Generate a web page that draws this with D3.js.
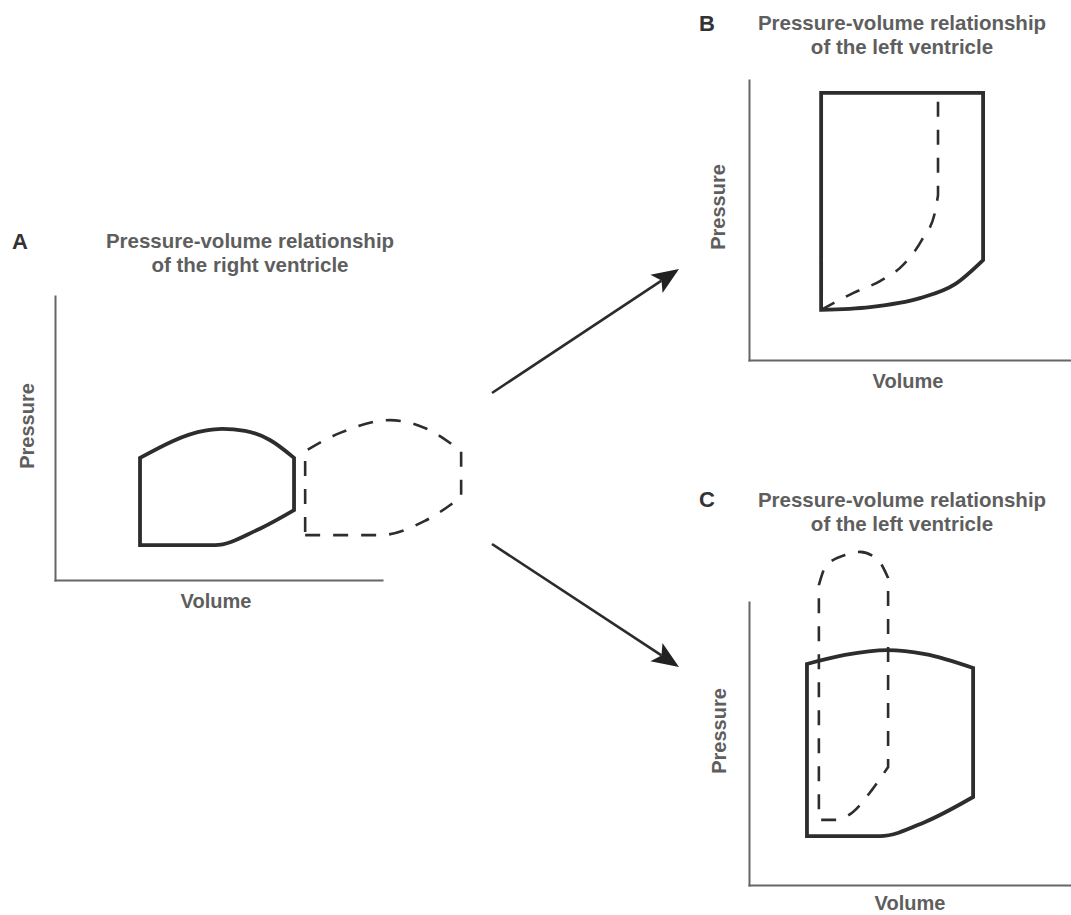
<!DOCTYPE html>
<html>
<head>
<meta charset="utf-8">
<script src="https://cdn.jsdelivr.net/npm/d3@7"></script>
<style>
  html, body { margin: 0; padding: 0; background: #fff; }
  svg { display: block; }
  text { font-family: "Liberation Sans", Arial, Helvetica, sans-serif; font-weight: bold; }
</style>
</head>
<body>
<svg id="chart" width="1071" height="915"></svg>
<script>
// ---------------------------------------------------------------
// Labels
// ---------------------------------------------------------------
const panelLetters = ["A", "B", "C"];
const panelTitles = [
  ["Pressure-volume relationship", "of the right ventricle"],
  ["Pressure-volume relationship", "of the left ventricle"],
  ["Pressure-volume relationship", "of the left ventricle"]
];
const volumeLabel = "Volume";
const pressureLabel = "Pressure";

// ---------------------------------------------------------------
// Loops: [volume, pressure] in relative units (0-100 spans each axis)
// ---------------------------------------------------------------
// Panel A - right ventricle, baseline loop (solid)
const rvBaseFilling  = [[26.0, 12.3], [48.9, 12.3], [61.8, 17.6], [73.1, 24.6]];
const rvBaseEjection = [[73.1, 43.0], [65.7, 49.3], [58.1, 52.5], [51.1, 53.2], [45.9, 52.6], [26.0, 43.0]];
// Panel A - right ventricle, dilated loop (dashed)
const rvDilatedFilling  = [[76.5, 15.8], [99.4, 15.8], [113.1, 20.8], [124.2, 29.2]];
const rvDilatedEjection = [[124.2, 45.4], [113.1, 53.5], [102.4, 56.3], [87.2, 51.8], [76.5, 45.4]];

// Panel B - left ventricle, baseline loop (solid)
const lvBaseFillingB  = [[22.4, 17.9], [37.6, 18.9], [53.1, 22.1], [64.0, 27.1], [72.7, 35.7]];
const lvBaseEjectionB = [[72.7, 95.4], [22.4, 95.4]];
// Panel B - stiffer filling curve (dashed)
const lvStiffFilling  = [[22.4, 17.9], [32.3, 23.9], [40.7, 28.2], [47.8, 33.9], [53.7, 42.9], [57.8, 52.9], [58.7, 58.9]];
const lvStiffEjection = [[58.7, 58.9], [58.7, 95.4]];

// Panel C - left ventricle, baseline loop (solid)
const lvBaseFillingC  = [[18.0, 17.3], [40.7, 17.3], [54.7, 22.3], [69.6, 31.1]];
const lvBaseEjectionC = [[69.6, 76.7], [54.7, 81.6], [42.9, 83.0], [29.8, 81.3], [18.0, 78.1]];
// Panel C - compressed, high-pressure loop (dashed)
const lvSmallEjection = [[21.7, 106.0], [23.9, 112.7], [29.8, 116.6], [34.5, 117.7], [40.1, 114.8], [43.2, 108.5]];
const lvSmallFilling  = [[43.2, 41.7], [38.2, 33.6], [32.3, 25.8], [26.7, 23.0], [21.7, 23.0]];

// ---------------------------------------------------------------
// Layout (pixels)
// ---------------------------------------------------------------
const layout = [
  { x0: 55,  x1: 382,  yBottom: 580, yTop: 296,
    title: [250, 248], letter: [12, 249], vol: [216, 608], pres: [34, 426] },
  { x0: 749, x1: 1071, yBottom: 360, yTop: 80,
    title: [902, 30],  letter: [699, 31], vol: [908, 388], pres: [725, 207] },
  { x0: 749, x1: 1071, yBottom: 885, yTop: 602,
    title: [902, 507], letter: [699, 507], vol: [910, 910], pres: [726, 731] }
];
const arrows = [
  { from: [492, 393], to: [679, 269] },
  { from: [492, 544], to: [679, 667] }
];

const loops = [
  { panel: 0, dashed: false, closed: true,  segs: [[rvBaseFilling, true], [rvBaseEjection, true]] },
  { panel: 0, dashed: true,  closed: true,  segs: [[rvDilatedFilling, true], [rvDilatedEjection, true]] },
  { panel: 1, dashed: false, closed: true,  segs: [[lvBaseFillingB, true], [lvBaseEjectionB, false]] },
  { panel: 1, dashed: true,  closed: false, segs: [[lvStiffFilling, true], [lvStiffEjection, false]] },
  { panel: 2, dashed: false, closed: true,  segs: [[lvBaseFillingC, true], [lvBaseEjectionC, true]] },
  { panel: 2, dashed: true,  closed: true,  segs: [[lvSmallEjection, true], [lvSmallFilling, true]] }
];

// ---------------------------------------------------------------
const svg = d3.select("#chart");
const axisColor = "#666";
const textColor = "#5e5e5e";

const scales = layout.map(L => ({
  x: d3.scaleLinear().domain([0, 100]).range([L.x0, L.x1]),
  y: d3.scaleLinear().domain([0, 100]).range([L.yBottom, L.yTop])
}));

// Joins several line pieces (curved or straight) into one continuous path.
function chainPath(segs, closed, x, y) {
  const p = d3.path();
  let started = false;
  const ctx = {
    moveTo(a, b) { if (started) p.lineTo(a, b); else { p.moveTo(a, b); started = true; } },
    lineTo(a, b) { p.lineTo(a, b); },
    bezierCurveTo(a, b, c, d, e, f) { p.bezierCurveTo(a, b, c, d, e, f); },
    closePath() {}
  };
  segs.forEach(([pts, curved]) => {
    d3.line()
      .x(d => x(d[0])).y(d => y(d[1]))
      .curve(curved ? d3.curveMonotoneX : d3.curveLinear)
      .context(ctx)(pts);
  });
  if (closed) p.closePath();
  return p.toString();
}

layout.forEach((L, i) => {
  const { x, y } = scales[i];
  const g = svg.append("g");

  // axes without ticks
  const xAxis = g.append("g").attr("transform", `translate(0,${L.yBottom})`)
    .call(d3.axisBottom(x).tickValues([]).tickSizeOuter(0));
  const yAxis = g.append("g").attr("transform", `translate(${L.x0},0)`)
    .call(d3.axisLeft(y).tickValues([]).tickSizeOuter(0));
  [xAxis, yAxis].forEach(a => a.select(".domain")
    .attr("stroke", axisColor).attr("stroke-width", 2).attr("stroke-linecap", "square"));

  // panel letter
  g.append("text").attr("x", L.letter[0]).attr("y", L.letter[1])
    .attr("font-size", 22).attr("fill", "#333").text(panelLetters[i]);

  // two-line title
  panelTitles[i].forEach((line, k) => {
    g.append("text").attr("x", L.title[0]).attr("y", L.title[1] + k * 24)
      .attr("text-anchor", "middle").attr("font-size", 20.5).attr("fill", textColor)
      .text(line);
  });

  // axis names
  g.append("text").attr("x", L.vol[0]).attr("y", L.vol[1])
    .attr("text-anchor", "middle").attr("font-size", 20).attr("fill", textColor)
    .text(volumeLabel);
  g.append("text")
    .attr("transform", `translate(${L.pres[0]},${L.pres[1]}) rotate(-90)`)
    .attr("text-anchor", "middle").attr("font-size", 20).attr("fill", textColor)
    .text(pressureLabel);
});

// pressure-volume loops
loops.forEach(lp => {
  const { x, y } = scales[lp.panel];
  svg.append("path")
    .attr("d", chainPath(lp.segs, lp.closed, x, y))
    .attr("fill", "none")
    .attr("stroke", "#2d2d2d")
    .attr("stroke-width", lp.dashed ? 2.6 : 3.8)
    .attr("stroke-dasharray", lp.dashed ? "15,13" : null)
    .attr("stroke-linejoin", "miter");
});

// arrows linking panel A to panels B and C
arrows.forEach(a => {
  const [x0, y0] = a.from, [x1, y1] = a.to;
  const ang = Math.atan2(y1 - y0, x1 - x0);
  const headLen = 27, halfW = 11, notch = 6;
  const ux = Math.cos(ang), uy = Math.sin(ang);
  const bx = x1 - ux * headLen, by = y1 - uy * headLen;
  const nx = x1 - ux * (headLen - notch), ny = y1 - uy * (headLen - notch);
  svg.append("line")
    .attr("x1", x0).attr("y1", y0).attr("x2", nx).attr("y2", ny)
    .attr("stroke", "#2b2b2b").attr("stroke-width", 2.6);
  const head = d3.path();
  head.moveTo(x1, y1);
  head.lineTo(bx - uy * halfW, by + ux * halfW);
  head.lineTo(nx, ny);
  head.lineTo(bx + uy * halfW, by - ux * halfW);
  head.closePath();
  svg.append("path").attr("d", head.toString()).attr("fill", "#222");
});
</script>
</body>
</html>
